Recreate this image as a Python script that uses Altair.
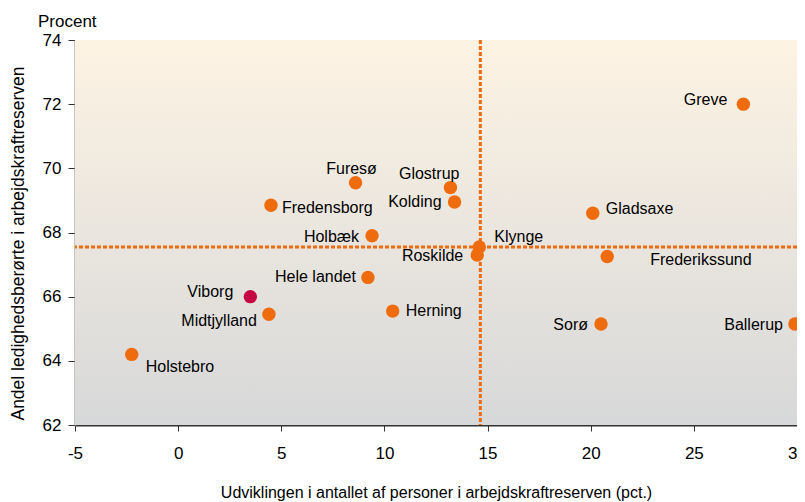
import altair as alt
import pandas as pd

# ---- data ----
names = ["Greve", "Gladsaxe", "Frederikssund", "Sorø", "Ballerup", "Furesø",
         "Glostrup", "Kolding", "Holbæk", "Klynge", "Roskilde", "Hele landet",
         "Herning", "Fredensborg", "Viborg", "Midtjylland", "Holstebro"]
x_vals = [27.4, 20.1, 20.8, 20.5, 29.9, 8.6,
          13.2, 13.4, 9.4, 14.6, 14.5, 9.2,
          10.4, 4.5, 3.5, 4.4, -2.25]
y_vals = [72.0, 68.6, 67.25, 65.15, 65.15, 69.55,
          69.4, 68.95, 67.9, 67.55, 67.3, 66.6,
          65.55, 68.85, 66.0, 65.45, 64.2]
highlight = "Viborg"
ref_x = 14.65
ref_y = 67.55
x_ticks = [-5, 0, 5, 10, 15, 20, 25, 30]
y_ticks = [62, 64, 66, 68, 70, 72, 74]

# label placement (style only): align, dx, dy in pixels
label_style = {
    "Greve": ("right", -16, -4),
    "Gladsaxe": ("left", 13, -4),
    "Frederikssund": ("left", 43, 3),
    "Sorø": ("right", -13, 1),
    "Ballerup": ("right", -12, 1),
    "Furesø": ("center", -4, -14),
    "Glostrup": ("right", 9, -14),
    "Kolding": ("right", -13, 0),
    "Holbæk": ("right", -13, 1),
    "Klynge": ("left", 15, -10),
    "Roskilde": ("right", -14, 1),
    "Hele landet": ("right", -12, 0),
    "Herning": ("left", 13, 0),
    "Fredensborg": ("left", 11, 3),
    "Viborg": ("right", -17, -5),
    "Midtjylland": ("right", -12, 7),
    "Holstebro": ("left", 14, 13),
}

df = pd.DataFrame({"name": names, "x": x_vals, "y": y_vals})
df["grp"] = ["hl" if n == highlight else "base" for n in names]

W, H = 722, 385
FONT = "Liberation Sans"
ORANGE = "#EE6C0E"
CRIMSON = "#C4083F"

xenc = alt.X("x:Q", scale=alt.Scale(domain=[-5, 30], nice=False, zero=False),
             axis=alt.Axis(values=x_ticks, title="Udviklingen i antallet af personer i arbejdskraftreserven (pct.)",
                           labelExpr="datum.value + ''",
                           grid=False, tickSize=6, labelFontSize=17, labelPadding=14,
                           titleFontSize=16, titleFontWeight="normal", titlePadding=23,
                           domainColor="#333333", domainWidth=2, tickColor="#333333",
                           labelColor="#000000", titleColor="#000000", labelFont=FONT, titleFont=FONT,
                           labelFlush=False))
yenc = alt.Y("y:Q", scale=alt.Scale(domain=[62, 74], nice=False, zero=False),
             axis=alt.Axis(values=y_ticks, title="Andel ledighedsberørte i arbejdskraftreserven",
                           grid=False, tickSize=7, labelFontSize=17, labelPadding=7,
                           titleFontSize=17.5, titleFontWeight="normal", titlePadding=15,
                           domainColor="#8C8C8C", domainWidth=2, tickColor="#333333",
                           labelColor="#000000", titleColor="#000000", labelFont=FONT, titleFont=FONT,
                           titleY=203))

bg = alt.Chart(alt.Data(values=[{}])).mark_rect(
    color=alt.LinearGradient(gradient="linear",
                             stops=[alt.GradientStop(color="#FDF3E3", offset=0),
                                    alt.GradientStop(color="#D7D8D9", offset=1)],
                             x1=0, x2=0, y1=0, y2=1)
).encode(x=alt.value(0), x2=alt.value(W), y=alt.value(0), y2=alt.value(H))

vrule = alt.Chart(pd.DataFrame({"x": [ref_x]})).mark_rule(
    color=ORANGE, strokeWidth=3, strokeDash=[4, 2]).encode(x=xenc)
hrule = alt.Chart(pd.DataFrame({"y": [ref_y]})).mark_rule(
    color=ORANGE, strokeWidth=3, strokeDash=[4, 2]).encode(y=yenc)

base = alt.Chart(df)
points = base.mark_circle(size=180, opacity=1).encode(
    x=xenc, y=yenc,
    color=alt.Color("grp:N", scale=alt.Scale(domain=["base", "hl"], range=[ORANGE, CRIMSON]), legend=None),
)

labels = []
for n in names:
    a, dx, dy = label_style[n]
    labels.append(
        base.transform_filter(alt.datum.name == n).mark_text(
            align=a, baseline="middle", dx=dx, dy=dy, fontSize=16, font=FONT, color="#000000"
        ).encode(x=xenc, y=yenc, text="name:N")
    )

procent = alt.Chart(alt.Data(values=[{}])).mark_text(
    align="left", baseline="middle", fontSize=17, font=FONT, color="#000000"
).encode(x=alt.value(-37), y=alt.value(-18), text=alt.value("Procent"))

chart = alt.layer(bg, vrule, hrule, points, *labels, procent).properties(
    width=W, height=H,
    autosize=alt.AutoSizeParams(type="none"),
    padding={"left": 67, "top": 32, "right": 0, "bottom": 80},
).configure_view(stroke=None)

chart.save("out.html", embed_options={"renderer": "svg", "actions": False})
